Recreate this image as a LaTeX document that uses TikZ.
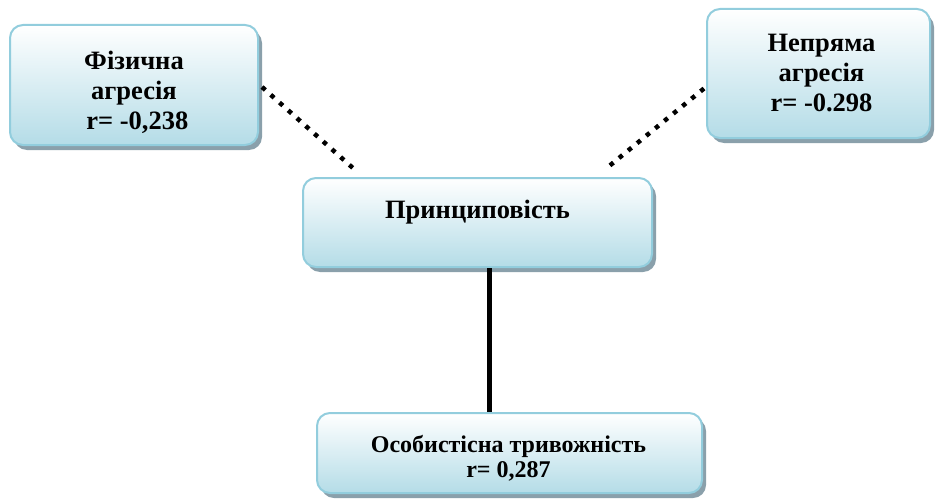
\documentclass[tikz,border=0pt]{standalone}
\usepackage{fontspec}
\setmainfont{Liberation Serif}
\usetikzlibrary{shadows,calc}
\definecolor{boxtop}{RGB}{255,255,255}
\definecolor{boxbot}{RGB}{180,220,231}
\definecolor{boxline}{RGB}{146,205,221}
\definecolor{shadowc}{RGB}{125,150,162}
\tikzset{
  corrbox/.style={rectangle, rounded corners=13pt, draw=boxline, line width=2pt,
    top color=boxtop, bottom color=boxbot, inner sep=0pt,
    drop shadow={shadow xshift=4pt, shadow yshift=-5pt, fill=shadowc, opacity=0.9}},
  boxtext/.style={anchor=north, align=center, inner sep=0pt,
    font=\fontsize{26.5}{30}\selectfont\bfseries},
  smalltext/.style={boxtext, font=\fontsize{24}{25}\selectfont\bfseries},
  dotlink/.style={line width=4.5pt, dash pattern=on 4.5pt off 7.2pt},
  solidlink/.style={line width=5pt}
}
\begin{document}
\begin{tikzpicture}[x=1pt,y=-1pt]
\useasboundingbox (0,0) rectangle (936,500);
\node[corrbox, minimum width=248pt, minimum height=120pt] (fiz) at (134,85) {};
\node[corrbox, minimum width=223pt, minimum height=129pt] (nep) at (818.5,73.5) {};
\node[corrbox, minimum width=349pt, minimum height=89pt] (pri) at (477.5,222.5) {};
\node[corrbox, minimum width=385pt, minimum height=80pt] (oso) at (509.5,453) {};
\node[boxtext] (fizt) at ($(fiz.north)+(0,27)$) {Фізична\\агресія\\\ r= -0,238};
\node[boxtext] (nept) at ($(nep.north)+(3,26)$) {Непряма\\агресія\\r= -0.298};
\node[boxtext] (prit) at ($(pri.north)+(0,23)$) {Принциповість};
\node[smalltext] (osot) at ($(oso.north)+(-1,23)$) {Особистісна тривожність\\r= 0,287};
\coordinate (lend) at ($(pri.north west)+(52,-8)$);
\coordinate (rend) at ($(pri.north west)+(306,-10)$);
\coordinate (rstart) at ($(nep.west)+(-2,15)$);
\draw[dotlink] ($(fiz.east)+(3,2)$) -- (lend);
\draw[dotlink] (rstart) -- (rend);
\draw[solidlink] ($(pri.south)+(11.5,0)$) -- ($(oso.north)+(-20.5,0)$);
\end{tikzpicture}
\end{document}
